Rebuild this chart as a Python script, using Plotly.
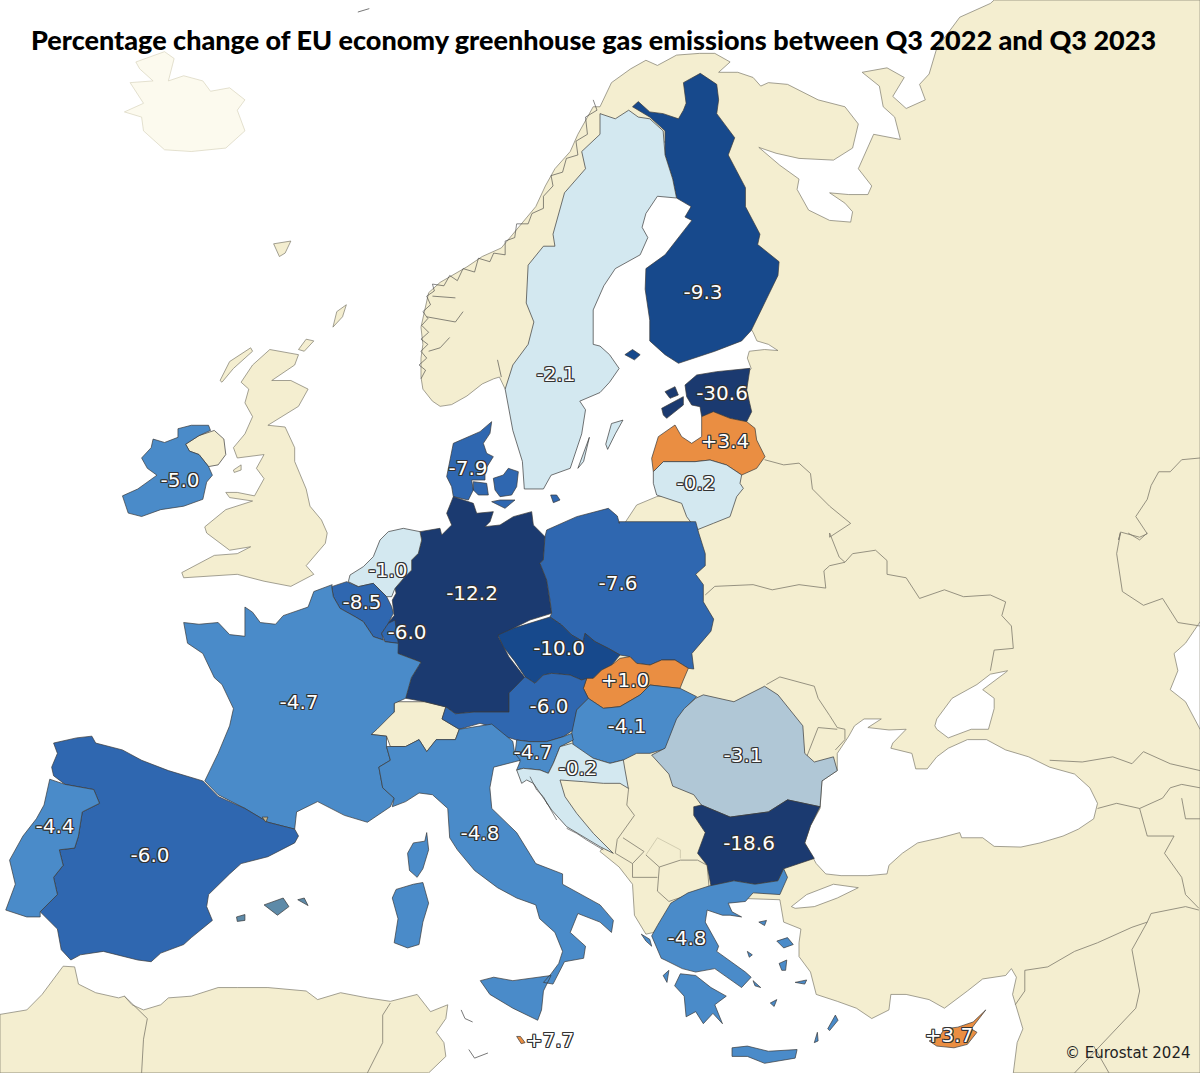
import plotly.graph_objects as go

def crop(ox, oy, sx, sy):
    return lambda pts: [(ox + x / sx, oy + y / sy) for x, y in pts]


A = crop(0, 0, 2.613, 2.904)
B = crop(600, 0, 2.613, 2.904)
C = crop(0, 533, 2.613, 2.904)
D = crop(600, 533, 2.613, 2.904)
E = crop(330, 400, 3, 3)
F = crop(480, 620, 3, 3)
G = crop(620, 340, 3, 3)

countries = ["FI", "SE", "EE", "LV", "LT", "IE", "DK", "DE", "PL", "NL", "BE", "LU", "CZ", "SK", "AT",
             "HU", "FR", "SI", "HR", "RO", "ES", "PT", "IT", "BG", "EL", "MT", "CY"]
values = [-9.3, -2.1, -30.6, 3.4, -0.2, -5.0, -7.9, -12.2, -7.6, -1.0, -8.5, -6.0, -10.0, 1.0, -6.0,
          -4.1, -4.7, -4.7, -0.2, -3.1, -6.0, -4.4, -4.8, -18.6, -4.8, 7.7, 3.7]
label_x = [703, 556, 722, 725, 696, 180, 468, 472, 618, 388, 362, 407, 559, 625, 549,
           627, 299, 533, 578, 743, 150, 55, 480, 749, 687, 550, 949]
label_y = [294, 376, 395, 443, 485, 482, 470, 595, 585, 572, 604, 634, 650, 682, 708,
           728, 704, 754, 770, 757, 857, 828, 835, 845, 940, 1042, 1037]

class_breaks = [-12, -9, -6, -4, -3, 0]
class_colors = ["#1b3a70", "#17498c", "#2f67b0", "#4a8bc9", "#b0c7d6", "#d3e8f0", "#ea8e42"]

LAND = "#f4eed0"
LINE = "#3a3a3a"
SOFT = "#7d7a6c"

land_east = (
    A([(1320, 1130), (1305, 1095), (1290, 1100), (1260, 1115), (1220, 1150), (1180, 1175), (1150, 1180),
       (1130, 1165), (1105, 1130), (1100, 1095), (1100, 1040), (1105, 1000), (1100, 950), (1110, 900),
       (1120, 850), (1150, 820), (1190, 795), (1220, 775), (1260, 745), (1310, 720), (1340, 680),
       (1370, 640), (1400, 600), (1425, 540), (1450, 490), (1490, 440), (1510, 390), (1550, 310)])
    + B([(0, 310), (30, 240), (80, 200), (120, 175), (150, 190), (200, 160), (260, 155), (300, 155),
         (340, 180), (310, 210), (360, 210), (400, 225), (420, 250), (440, 240), (490, 245), (570, 290),
         (640, 310), (675, 360), (660, 430), (610, 465), (520, 460), (460, 445), (415, 428), (470, 480),
         (520, 520), (515, 550), (545, 610), (600, 640), (655, 645), (660, 615), (640, 590), (600, 560),
         (650, 565), (700, 565), (710, 540), (675, 490), (715, 390), (785, 405), (770, 340), (740, 310),
         (730, 250), (685, 210), (750, 197), (795, 225), (765, 280), (800, 315), (850, 290), (835, 245),
         (860, 215), (880, 140), (940, 50), (1020, 10), (1030, 0), (1568, 0)])
    + D([(1568, 1568), (1080, 1568), (1090, 1480), (1105, 1440), (1085, 1370), (1078, 1340), (1088, 1290),
         (1075, 1265), (1060, 1285), (1000, 1295), (960, 1330), (900, 1380), (860, 1355), (800, 1340),
         (760, 1340), (755, 1385), (710, 1410), (670, 1380), (620, 1360), (565, 1340), (550, 1275),
         (520, 1230), (520, 1190), (525, 1150), (480, 1130), (475, 1100), (470, 1065), (340, 1060),
         (250, 1090), (160, 1130), (140, 1160), (120, 1165), (90, 1110), (85, 1020), (50, 970), (0, 925)])
    + F([(370, 680), (320, 640), (250, 600), (200, 550), (180, 480), (150, 300), (300, 100)])
    + G([(15, 548), (50, 495), (110, 470), (250, 450), (300, 200)])
    + B([(395, 1070), (385, 1040), (390, 1020), (430, 1015), (465, 1018), (440, 1000), (410, 990), (400, 965),
         (250, 700), (250, 400), (120, 420), (80, 600)])
    + A([(1400, 1000)])
)

black_sea = D([(650, 590), (665, 560), (690, 540), (735, 540), (700, 565), (755, 572), (800, 570), (765, 610),
               (760, 625), (815, 640), (825, 685), (855, 685), (880, 650), (910, 625), (960, 600), (1010, 600),
               (1060, 630), (1120, 650), (1175, 680), (1240, 700), (1280, 740), (1300, 785), (1290, 830),
               (1250, 860), (1210, 880), (1150, 900), (1100, 912), (1030, 910), (1000, 885), (945, 885),
               (940, 870), (890, 885), (830, 900), (790, 930), (755, 965), (750, 990), (700, 995), (630, 995),
               (590, 990), (565, 960), (535, 900), (550, 850), (575, 800), (580, 720), (620, 690), (620, 640)])
azov_sea = D([(875, 560), (880, 540), (920, 480), (985, 440), (1020, 410), (1065, 400), (1060, 405), (1000, 455),
              (1030, 480), (1030, 510), (1015, 570), (970, 570), (910, 595), (880, 570)])
marmara_sea = D([(500, 1085), (540, 1050), (610, 1020), (675, 1030), (620, 1060), (560, 1085), (510, 1090)])
caspian_sea = D([(1568, 258), (1530, 320), (1500, 350), (1510, 400), (1490, 455), (1530, 490), (1568, 570)])

great_britain = (
    A([(705, 1015), (780, 1030), (770, 1060), (710, 1105), (760, 1105), (805, 1130), (780, 1180), (730, 1215),
       (700, 1235), (745, 1240), (770, 1300), (770, 1340), (800, 1420), (810, 1470), (840, 1510)])
    + C([(855, 0), (850, 30), (800, 95), (820, 120), (760, 155), (690, 140), (620, 120), (560, 125), (480, 130),
         (475, 115), (560, 65), (620, 60), (655, 40), (600, 50), (540, 0)])
    + A([(535, 1530), (590, 1480), (660, 1455), (600, 1445), (590, 1430), (620, 1430), (665, 1440), (690, 1390),
         (670, 1360), (690, 1320), (620, 1330), (610, 1300), (640, 1260), (660, 1210), (640, 1170), (650, 1130),
         (630, 1110), (660, 1060)])
)
hebrides = A([(575, 1105), (600, 1050), (655, 1010), (660, 1020), (610, 1070), (580, 1110)])
isle_of_man = A([(610, 1365), (630, 1350), (630, 1365), (612, 1372)])
shetland = A([(870, 950), (880, 905), (905, 885), (895, 920)])
orkney = A([(780, 1015), (800, 985), (820, 990), (795, 1020)])
faroe = A([(715, 708), (760, 700), (745, 735), (730, 745)])
northern_ireland = A([(485, 1290), (520, 1265), (560, 1250), (585, 1275), (590, 1320), (570, 1350), (545, 1355),
                      (520, 1320), (495, 1310)])
iceland = A([(355, 180), (430, 150), (455, 170), (440, 235), (480, 220), (530, 235), (550, 265), (600, 255),
             (640, 290), (620, 320), (640, 380), (590, 430), (500, 440), (430, 435), (375, 380), (370, 340),
             (325, 325), (375, 300), (340, 240), (400, 235), (365, 200)])
north_africa = C([(165, 1258), (195, 1260), (205, 1310), (250, 1335), (310, 1350), (325, 1345), (345, 1370),
                  (375, 1385), (420, 1370), (440, 1350), (500, 1345), (570, 1320), (620, 1320), (700, 1320),
                  (800, 1330), (830, 1355), (890, 1335), (960, 1350), (1020, 1360), (1090, 1340), (1125, 1390),
                  (1170, 1370), (1165, 1410), (1140, 1450), (1160, 1480), (1165, 1520), (1120, 1568), (0, 1568),
                  (0, 1398), (70, 1385), (110, 1340)])
switzerland = C([(1030, 490), (1110, 490), (1165, 505), (1155, 540), (1200, 570), (1190, 600), (1140, 600),
                 (1115, 635), (1095, 600), (1060, 620), (1020, 620), (1010, 590), (970, 585), (985, 560), (1030, 520)])

outlines = {
    "FI": [
        B([(85, 310), (100, 295), (130, 325), (165, 330), (205, 345), (218, 320), (225, 300), (218, 240), (262, 213),
           (305, 245), (310, 290), (305, 330), (352, 400), (335, 450), (380, 545), (380, 600), (418, 680), (412, 710),
           (468, 760), (465, 800), (430, 880), (395, 960), (370, 990), (300, 1020), (205, 1055), (170, 1030),
           (130, 990), (130, 930), (118, 840), (120, 780), (170, 740), (240, 640), (222, 630), (238, 600), (200, 575),
           (190, 520), (170, 450), (170, 380), (130, 340)]),
        B([(65, 1030), (85, 1015), (105, 1030), (90, 1045)]),
    ],
    "SE": [
        A([(1320, 1130), (1340, 1060), (1380, 1000), (1395, 935), (1375, 880), (1380, 770), (1420, 715), (1450, 715),
           (1445, 680), (1475, 560), (1530, 490), (1520, 440)])
        + B([(0, 390), (0, 330), (40, 345), (75, 320), (100, 340), (130, 345), (165, 380), (170, 450), (190, 520),
             (200, 575), (150, 570), (120, 620), (110, 660), (125, 690), (105, 740), (40, 780), (10, 830)])
        + A([(1550, 900), (1550, 1000)])
        + B([(0, 1005), (25, 1030), (50, 1070), (25, 1110), (0, 1140)])
        + A([(1515, 1165), (1530, 1190), (1520, 1260), (1490, 1360), (1440, 1380), (1420, 1420), (1370, 1420),
             (1365, 1340), (1340, 1250)]),
        B([(15, 1290), (30, 1230), (60, 1220), (40, 1260), (20, 1305)]),
        A([(1510, 1360), (1540, 1270), (1525, 1340)]),
    ],
    "EE": [
        G([(195, 135), (230, 105), (290, 95), (390, 85), (380, 150), (395, 215), (380, 245), (330, 235), (280, 215),
           (245, 230), (240, 200), (215, 195), (200, 170)]),
        G([(125, 205), (160, 185), (190, 170), (190, 195), (140, 235), (130, 225)]),
        G([(135, 155), (165, 140), (175, 165), (150, 175)]),
    ],
    "LV": [
        G([(165, 255), (185, 290), (215, 310), (245, 290), (245, 230), (280, 215), (330, 235), (380, 245), (405, 265),
           (410, 300), (435, 350), (410, 385), (365, 405), (320, 375), (270, 360), (225, 365), (165, 365), (130, 365),
           (100, 395), (95, 355), (115, 290)]),
    ],
    "LT": [
        G([(100, 395), (130, 365), (225, 365), (270, 360), (320, 375), (365, 405), (360, 430), (370, 445), (350, 470),
           (330, 530), (280, 550), (230, 570), (200, 530), (185, 490), (110, 465), (100, 430)]),
    ],
    "IE": [
        A([(400, 1275), (430, 1285), (465, 1270), (465, 1245), (500, 1235), (545, 1235), (550, 1250), (520, 1265),
           (485, 1290), (495, 1310), (520, 1320), (545, 1355), (555, 1380), (540, 1400), (530, 1450), (480, 1470),
           (420, 1480), (370, 1500), (335, 1490), (320, 1440), (360, 1420), (410, 1380), (385, 1360), (370, 1330),
           (395, 1300)]),
    ],
    "DK": [
        E([(370, 130), (415, 110), (450, 95), (485, 65), (480, 100), (460, 130), (470, 160), (490, 170), (465, 210),
           (465, 240), (425, 240), (430, 270), (415, 300), (370, 290), (365, 260), (350, 230), (360, 180)]),
        E([(430, 245), (470, 250), (475, 285), (445, 285), (430, 270)]),
        E([(490, 235), (520, 225), (535, 205), (565, 215), (560, 260), (545, 285), (510, 290), (495, 270)]),
        E([(485, 305), (510, 300), (555, 300), (525, 325)]),
        E([(662, 285), (680, 285), (690, 300), (670, 308)]),
    ],
    "DE": [
        E([(270, 395), (330, 385), (335, 405), (365, 375), (350, 340), (370, 290), (430, 310), (440, 340), (490, 335),
           (480, 365), (465, 380), (510, 375), (550, 350), (585, 340), (605, 335), (610, 375), (645, 410), (640, 480),
           (630, 490), (650, 540), (660, 600), (665, 640), (600, 660), (520, 700), (505, 710)])
        + C([(1330, 360), (1375, 425), (1330, 465), (1330, 520), (1240, 520), (1190, 525), (1165, 505), (1110, 490),
             (1060, 480), (1075, 420), (1100, 375), (1040, 350), (1020, 320), (1005, 310), (1015, 260), (1030, 240),
             (1025, 195), (1035, 175)])
        + E([(195, 565), (225, 530), (245, 510), (245, 480), (265, 460), (275, 420)]),
    ],
    "PL": [
        E([(650, 390), (740, 350), (835, 325), (862, 348), (868, 370)])
        + B([(50, 1515), (250, 1515)])
        + D([(258, 0), (275, 60), (275, 95), (250, 120), (270, 150), (270, 200), (297, 250), (290, 285), (240, 350),
             (245, 395)])
        + F([(625, 145), (585, 120), (545, 120), (510, 135), (470, 130), (450, 110), (420, 105), (385, 85), (345, 65),
             (315, 40), (310, 65), (275, 45), (245, 15), (210, -9)])
        + E([(665, 640), (660, 600), (650, 540), (630, 490), (640, 480), (645, 410)]),
    ],
    "NL": [
        E([(130, 470), (150, 420), (175, 395), (220, 385), (270, 395), (275, 420), (265, 460), (245, 480), (245, 510),
           (225, 530), (195, 565), (185, 590), (170, 590), (130, 550), (85, 560), (55, 545), (60, 525), (100, 500)]),
    ],
    "BE": [
        E([(5, 560), (50, 545), (85, 560), (130, 550), (170, 590), (185, 620), (190, 640), (175, 670), (155, 700),
           (160, 720), (130, 710), (100, 665), (75, 650), (30, 625), (10, 590)]),
    ],
    "LU": [
        E([(175, 670), (195, 660), (200, 700), (205, 730), (165, 725), (155, 700)]),
    ],
    "CZ": [
        F([(54, 45), (100, 25), (210, -9), (245, 15), (275, 45), (310, 65), (315, 40), (345, 65), (385, 85), (420, 105),
           (395, 135), (365, 150), (340, 175), (305, 180), (270, 165), (215, 160), (190, 165), (165, 190), (135, 170),
           (105, 125), (70, 80)]),
    ],
    "SK": [
        F([(450, 110), (470, 130), (510, 135), (545, 120), (585, 120), (625, 145), (610, 180), (600, 205), (550, 200),
           (510, 195), (480, 225), (420, 260), (370, 265), (325, 235), (310, 205), (320, 175), (340, 175), (365, 150),
           (395, 135), (420, 115)]),
    ],
    "AT": [
        F([(135, 170), (165, 190), (190, 165), (215, 160), (270, 165), (305, 180), (320, 175), (310, 205), (325, 235),
           (290, 270), (280, 330), (250, 350), (200, 365), (150, 365), (110, 360), (60, 345), (35, 320), (0, 310)])
        + C([(1200, 570), (1155, 540), (1165, 505), (1190, 525), (1240, 520), (1330, 520), (1330, 465)]),
    ],
    "HU": [
        F([(325, 235), (370, 265), (420, 260), (480, 225), (510, 195), (550, 200), (600, 205), (650, 230), (610, 270),
           (590, 320), (560, 385), (510, 400), (470, 400), (430, 420), (390, 430), (340, 415), (280, 380), (275, 340),
           (290, 270)]),
    ],
    "FR": [
        C([(868, 150)])
        + E([(5, 560), (10, 590), (30, 625), (75, 650), (100, 665), (130, 710), (160, 720), (165, 725), (205, 730)])
        + C([(1040, 350), (1100, 375), (1075, 420),
           (1060, 480), (1030, 495), (1030, 520), (985, 570), (970, 585), (1010, 590), (1010, 620), (1020, 660), (990, 680),
           (1000, 740), (1030, 770), (1020, 795), (960, 840), (900, 820), (830, 780), (775, 810), (770, 860), (700, 840),
           (640, 800), (570, 760), (535, 720), (570, 640), (600, 560), (610, 510), (580, 440), (560, 420), (530, 350),
           (490, 320), (480, 260), (520, 265), (570, 260), (600, 295), (640, 300), (640, 215), (660, 230), (680, 260),
           (720, 265), (740, 240), (805, 215), (820, 170)]),
        C([(1115, 870), (1120, 920), (1105, 975), (1090, 1000), (1070, 980), (1065, 930), (1080, 900), (1110, 895)]),
    ],
    "SI": [
        F([(110, 360), (150, 365), (200, 365), (250, 350), (275, 340), (280, 360), (240, 380), (220, 430), (205, 460),
           (180, 450), (130, 445), (110, 450), (120, 425), (105, 400)]),
    ],
    "HR": [
        F([(275, 370), (340, 415), (390, 430), (430, 420), (435, 450), (445, 505), (420, 490), (370, 490), (310, 485),
           (240, 480), (255, 530), (290, 580), (340, 640), (400, 700), (360, 680), (310, 650), (260, 620), (215, 570),
           (160, 490), (140, 480), (125, 490), (110, 450), (130, 445), (180, 450), (205, 460), (220, 430), (240, 380)]),
    ],
    "RO": [
        D([(250, 480), (270, 470), (350, 490), (430, 445), (465, 470), (500, 520), (530, 560), (535, 640), (560, 665),
           (610, 650), (620, 690), (580, 720), (575, 795), (490, 775), (440, 810), (340, 825), (265, 790), (245, 760),
           (190, 735), (180, 700), (135, 645), (170, 625), (200, 540), (220, 510)]),
    ],
    "ES": [
        C([(140, 610), (200, 595), (240, 590), (250, 610), (320, 630), (370, 660), (440, 690), (530, 720), (570, 765),
           (640, 800), (700, 840), (770, 860), (780, 880), (770, 900), (700, 940), (630, 960), (600, 990), (545, 1050),
           (540, 1085), (555, 1125), (500, 1175), (480, 1195), (420, 1220), (395, 1245), (360, 1240), (270, 1215),
           (210, 1225), (185, 1240), (160, 1210), (150, 1150), (105, 1100), (150, 1050), (140, 1000), (165, 965),
           (155, 920), (195, 915), (205, 880), (215, 810), (260, 785), (245, 745), (170, 730), (140, 705), (135, 680),
           (150, 640)]),
    ],
    "PT": [
        C([(130, 715), (170, 730), (245, 745), (260, 785), (215, 810), (205, 880), (195, 915), (155, 920), (165, 965),
           (140, 1000), (150, 1050), (105, 1100), (105, 1115), (70, 1115), (15, 1095), (40, 1020), (25, 950), (60, 880),
           (95, 830), (115, 790)]),
    ],
    "IT": [
        C([(1010, 620), (1060, 620), (1095, 600), (1115, 635), (1140, 600), (1190, 600), (1200, 570), (1285, 555),
           (1340, 605), (1345, 640), (1360, 660), (1290, 680), (1280, 740), (1285, 800), (1350, 870), (1400, 960),
           (1470, 990), (1470, 1020), (1568, 1080)])
        + D([(35, 1125), (30, 1160), (0, 1130)])
        + C([(1510, 1105), (1490, 1160), (1530, 1200), (1525, 1235), (1475, 1245), (1445, 1310), (1420, 1305), (1440, 1280),
             (1460, 1250), (1470, 1215), (1450, 1160), (1410, 1120), (1400, 1080), (1350, 1060), (1300, 1030), (1240, 980),
             (1195, 920), (1175, 885), (1170, 800), (1130, 760), (1095, 755), (1060, 780), (1025, 795), (1030, 770),
             (1000, 740), (990, 680), (1020, 660)]),
        C([(1255, 1300), (1290, 1290), (1340, 1300), (1410, 1290), (1440, 1285), (1420, 1330), (1415, 1385), (1405, 1415),
           (1340, 1380), (1280, 1340)]),
        C([(1035, 1035), (1080, 1020), (1105, 1015), (1120, 1075), (1105, 1130), (1095, 1195), (1065, 1205), (1030, 1190),
           (1040, 1120), (1025, 1060)]),
    ],
    "BG": [
        D([(245, 795), (265, 790), (340, 825), (440, 810), (490, 775), (575, 795), (550, 850), (535, 900), (560, 945),
           (480, 975), (465, 1010), (405, 1020), (350, 1010), (290, 1025), (280, 965), (255, 930), (275, 870), (245, 820)]),
    ],
    "EL": [
        D([(285, 1025), (350, 1010), (405, 1020), (465, 1010), (480, 975), (490, 1000), (470, 1050), (400, 1045), (380, 1070),
           (335, 1075), (345, 1100), (370, 1115), (340, 1110), (320, 1110), (280, 1095), (275, 1130), (310, 1200), (305, 1215),
           (380, 1275), (395, 1290), (370, 1320), (300, 1265), (250, 1275), (215, 1265), (170, 1240), (160, 1235), (135, 1170),
           (150, 1140), (185, 1075), (230, 1045)]),
        D([(210, 1280), (250, 1285), (290, 1320), (330, 1345), (300, 1370), (320, 1425), (295, 1395), (270, 1425), (250, 1390),
           (225, 1405), (220, 1345), (195, 1315)]),
        D([(345, 1495), (385, 1490), (440, 1505), (515, 1500), (510, 1525), (430, 1540), (385, 1520), (345, 1520)]),
        D([(595, 1440), (615, 1400), (622, 1415), (600, 1445)]),
        D([(462, 1185), (490, 1175), (505, 1195), (480, 1205)]),
        D([(468, 1250), (488, 1240), (485, 1270), (475, 1270)]),
        D([(510, 1305), (540, 1298), (535, 1310)]),
        D([(165, 1285), (180, 1270), (175, 1305)]),
        D([(108, 1165), (130, 1180), (135, 1200), (120, 1185)]),
        D([(415, 1130), (435, 1125), (430, 1140)]),
        D([(445, 1365), (462, 1355), (455, 1375)]),
        D([(560, 1480), (568, 1450), (570, 1475)]),
        D([(400, 1300), (420, 1320), (405, 1315)]),
        D([(385, 1215), (398, 1225), (390, 1232)]),
    ],
    "MT": [
        C([(1350, 1462), (1360, 1462), (1372, 1480), (1362, 1483)]),
    ],
    "CY": [
        D([(1008, 1385), (975, 1420), (935, 1435), (900, 1440), (885, 1465), (860, 1475), (880, 1490), (925, 1495), (960, 1485),
           (985, 1450), (970, 1440)]),
    ],
}

balearics = [
    C([(690, 1080), (740, 1060), (755, 1085), (725, 1110)]),
    C([(778, 1065), (795, 1060), (805, 1082)]),
    C([(618, 1115), (640, 1108), (640, 1125), (620, 1128)]),
]
andorra = C([(685, 825), (700, 825), (695, 840)])

# borders between the countries that are not coloured
border_lines = [
    D([(275, 180), (300, 155), (400, 150), (450, 165), (520, 150), (590, 160), (585, 110), (600, 95), (640, 85), (660, 60),
       (720, 50), (750, 80), (750, 120), (800, 130), (835, 190), (900, 165), (950, 185), (1020, 180), (1060, 200), (1050, 240),
       (1075, 270), (1080, 335), (1030, 340), (1020, 400)]),
    B([(430, 1335), (480, 1350), (520, 1345), (550, 1375), (555, 1420), (600, 1470), (655, 1520), (600, 1560)])
    + D([(600, 0), (625, 70), (640, 85)]),
    D([(435, 440), (470, 418), (560, 445), (570, 480), (600, 530), (620, 565), (640, 570), (640, 600), (615, 630)]),
    D([(540, 650), (550, 620), (570, 565), (620, 570)]),
    B([(1568, 1330), (1520, 1335), (1490, 1370), (1460, 1370), (1440, 1410), (1430, 1450), (1400, 1500), (1430, 1550),
       (1410, 1560), (1360, 1545), (1355, 1568)])
    + D([(1360, 0), (1350, 60), (1365, 170), (1420, 210), (1470, 190), (1510, 260), (1568, 270)]),
    D([(1380, 0), (1410, 20), (1430, 0)]),
    D([(75, 740), (70, 790), (90, 820), (45, 890), (40, 930)]),
    D([(40, 930), (85, 960), (115, 925), (60, 885)]),
    D([(155, 970), (150, 1040), (180, 1070), (285, 1030), (280, 965), (255, 950), (210, 950), (155, 970), (120, 935)]),
    D([(85, 960), (85, 1000), (150, 1000)]),
    D([(1175, 660), (1260, 665), (1340, 650), (1390, 670), (1420, 635), (1490, 670), (1568, 690)]),
    D([(1300, 800), (1350, 785), (1410, 800), (1470, 770), (1490, 740), (1520, 730), (1568, 740)]),
    D([(1410, 800), (1425, 860), (1430, 880), (1500, 880), (1475, 930), (1520, 1000), (1530, 1050), (1565, 1090)]),
    D([(1520, 770), (1530, 830), (1568, 830)]),
    D([(1110, 1270), (1170, 1260), (1240, 1215), (1300, 1190), (1390, 1145), (1430, 1130), (1440, 1105), (1530, 1085), (1565, 1095)]),
    D([(1430, 1130), (1390, 1210), (1410, 1330), (1400, 1380), (1240, 1568)]),
    D([(1085, 1370), (1110, 1330), (1110, 1270)]),
    D([(1330, 1568), (1290, 1490)]),
    C([(325, 1345), (385, 1410), (375, 1470), (370, 1568)]),
    C([(1020, 1365), (1000, 1400), (1000, 1480), (960, 1568)]),
]
kosovo_line = D([(120, 935), (150, 885), (210, 920), (210, 945)])
islet_arcs = [
    C([(1205, 1385), (1215, 1410), (1235, 1420)]),
    C([(1225, 1500), (1240, 1525), (1275, 1510)]),
    A([(935, 35), (965, 25)]),
]
# dark scribble of the Norwegian skerries and fjords, plus the Dalmatian islands
skerries = [
    A([(1100, 1100), (1112, 1075), (1095, 1060), (1115, 1040), (1100, 1020), (1118, 1000), (1100, 985), (1120, 965),
       (1102, 945), (1118, 925), (1105, 905), (1125, 885), (1115, 860), (1135, 845), (1130, 825), (1160, 830),
       (1175, 800), (1195, 815), (1210, 780), (1240, 790), (1250, 750), (1280, 760), (1290, 735), (1320, 740),
       (1320, 700), (1345, 690), (1350, 650), (1380, 650), (1390, 620), (1420, 605), (1420, 570), (1445, 540),
       (1440, 510), (1470, 500), (1480, 460), (1510, 450), (1505, 410), (1535, 390), (1530, 340), (1560, 320), (1550, 290)]),
    A([(1130, 860), (1190, 865)]),
    A([(1115, 920), (1190, 935), (1210, 905)]),
    A([(1120, 1020), (1150, 1010), (1175, 980)]),
    A([(1300, 1045), (1310, 1095)]),
    F([(150, 470), (170, 510), (190, 530), (230, 600)]),
    F([(260, 625), (290, 640), (320, 660), (370, 690)]),
]


def colour_for(value):
    for limit, colour in zip(class_breaks, class_colors):
        if value <= limit:
            return colour
    return class_colors[-1]


def rings_to_xy(rings):
    xs, ys = [], []
    for ring in rings:
        xs += [p[0] for p in ring] + [ring[0][0], None]
        ys += [p[1] for p in ring] + [ring[0][1], None]
    return xs, ys


def add_area(fig, rings, fill, line=LINE, width=0.7):
    xs, ys = rings_to_xy(rings)
    fig.add_trace(go.Scatter(x=xs, y=ys, mode="lines", fill="toself", fillcolor=fill,
                             line=dict(color=line, width=width), hoverinfo="skip"))


def add_line(fig, pts, colour=SOFT, width=0.8):
    fig.add_trace(go.Scatter(x=[p[0] for p in pts], y=[p[1] for p in pts], mode="lines",
                             line=dict(color=colour, width=width), hoverinfo="skip"))


fig = go.Figure()

add_area(fig, [iceland], "#fcfaee", line="#d8d4bd")
add_area(fig, [land_east], LAND, line=SOFT)
add_area(fig, [great_britain, hebrides, isle_of_man, shetland, orkney, faroe], LAND, line=SOFT)
add_area(fig, [north_africa], LAND, line=SOFT)
add_area(fig, [black_sea, azov_sea, marmara_sea, caspian_sea], "#ffffff", line=SOFT)
for pts in border_lines:
    add_line(fig, pts)
add_line(fig, kosovo_line, colour="#c9c4a8")
for pts in islet_arcs:
    add_line(fig, pts, colour="#555555")
add_area(fig, [northern_ireland, switzerland], LAND)

for code, value in zip(countries, values):
    add_area(fig, outlines[code], colour_for(value))
add_area(fig, balearics, "#5d8aa8")
add_area(fig, [andorra], "#c4b58c")
for pts in skerries:
    add_line(fig, pts, colour="#3a3a3a", width=0.6)

shadow = ", ".join(f"{dx}px {dy}px 0 #333" for dx in (-1, 0, 1) for dy in (-1, 0, 1) if dx or dy)
fig.add_trace(go.Scatter(x=label_x, y=label_y, mode="text", text=[f"{v:+.1f}" for v in values],
                         textposition="middle center", hoverinfo="skip",
                         textfont=dict(family="DejaVu Sans", size=20, color="#ffffff", shadow=shadow)))

fig.add_annotation(x=593, y=39, xref="x", yref="y", showarrow=False,
                   text="Percentage change of EU economy greenhouse gas emissions between Q3 2022 and Q3 2023",
                   font=dict(family="Lato", size=27, color="#000000", weight=900))
fig.add_annotation(x=1127, y=1053, xref="x", yref="y", showarrow=False, text="© Eurostat 2024",
                   font=dict(family="DejaVu Sans", size=15, color="#222222"))

fig.update_xaxes(range=[0, 1200], visible=False, fixedrange=True)
fig.update_yaxes(range=[1073, 0], visible=False, fixedrange=True)
fig.update_layout(width=1200, height=1073, margin=dict(l=0, r=0, t=0, b=0), showlegend=False,
                  paper_bgcolor="#ffffff", plot_bgcolor="#ffffff")

# the page's default body margin would push the figure 8px off
fig.write_html("out.html", config={"displayModeBar": False},
               post_script="document.body.style.margin = '0';")
